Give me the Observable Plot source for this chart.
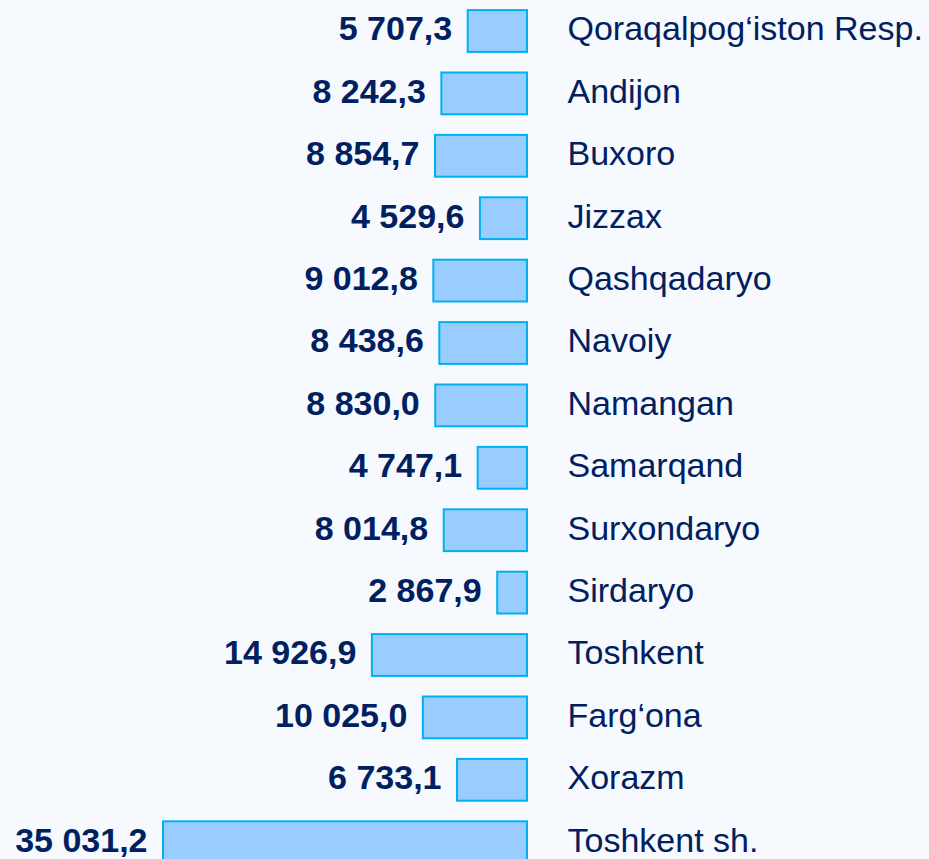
<!DOCTYPE html>
<html>
<head>
<meta charset="utf-8">
<script src="https://cdn.jsdelivr.net/npm/d3@7"></script>
<script src="https://cdn.jsdelivr.net/npm/@observablehq/plot@0.6"></script>
<style>
  html, body { margin: 0; padding: 0; background: #F6F9FE; overflow: hidden; }
</style>
</head>
<body>
<div id="chart"></div>
<script>
const regions = [
  "Qoraqalpog‘iston Resp.", "Andijon", "Buxoro", "Jizzax", "Qashqadaryo",
  "Navoiy", "Namangan", "Samarqand", "Surxondaryo", "Sirdaryo",
  "Toshkent", "Farg‘ona", "Xorazm", "Toshkent sh."
];
const values = [
  5707.3, 8242.3, 8854.7, 4529.6, 9012.8,
  8438.6, 8830.0, 4747.1, 8014.8, 2867.9,
  14926.9, 10025.0, 6733.1, 35031.2
];

const data = regions.map((r, i) => ({region: r, value: values[i]}));
const fmt = d3.formatLocale({decimal: ",", thousands: " ", grouping: [3]}).format(",.1f");
const navy = "#002060";

const chart = Plot.plot({
  width: 929,
  height: 859,
  marginTop: 0, marginBottom: 0, marginLeft: 0, marginRight: 0,
  style: {background: "#F6F9FE", fontFamily: "'Liberation Sans', Arial, sans-serif"},
  x: {domain: [0, 35031.2], range: [527, 163], axis: null},
  y: {domain: regions, range: [-0.2, 873.4], paddingInner: 0.33, paddingOuter: 0.165, round: false, axis: null},
  marks: [
    Plot.barX(data, {x: "value", y: "region", fill: "#99CCFF", stroke: "#00B0F0", strokeWidth: 2}),
    Plot.text(data, {x: "value", y: "region", text: d => fmt(d.value), textAnchor: "end", dx: -16, dy: -2,
      fill: navy, fontSize: 34, fontWeight: "bold"}),
    Plot.text(data, {x: () => 0, y: "region", text: "region", textAnchor: "start", dx: 40, dy: -2,
      fill: navy, fontSize: 34})
  ]
});
document.getElementById("chart").append(chart);
</script>
</body>
</html>
